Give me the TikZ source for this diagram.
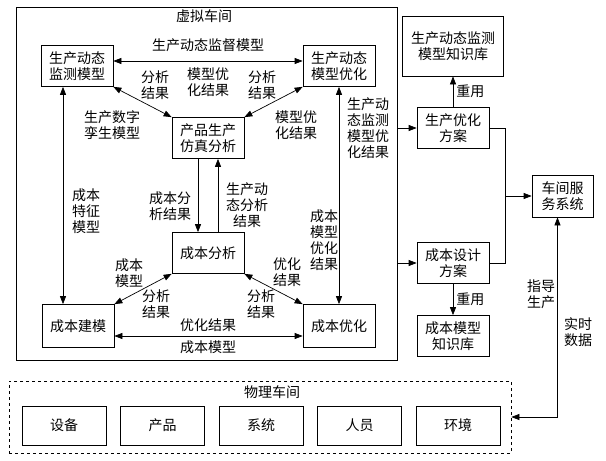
\documentclass[tikz,border=0pt]{standalone}
\usepackage{fontspec}
\setmainfont{Noto Sans CJK SC}
\usetikzlibrary{arrows.meta}
\tikzset{
  box/.style={draw, line width=0.7pt, minimum width=72pt, minimum height=41pt,
    inner sep=0pt, align=center},
  lbl/.style={inner sep=0pt, align=center},
  arr/.style={line width=0.7pt, -{Triangle[length=8pt,width=6pt]}},
  dbl/.style={line width=0.7pt, {Triangle[length=8pt,width=6pt]}-{Triangle[length=8pt,width=6pt]}}
}
\begin{document}
\begin{tikzpicture}[x=1pt, y=-1pt, font=\fontsize{14}{16}\selectfont]
  \useasboundingbox (0,0) rectangle (606,461);

  % Virtual workshop
  \node[draw, line width=0.7pt, minimum width=381pt, minimum height=353pt] (xuni) at (206.5,183.5) {};
  \node[lbl] at (204,16) {虚拟车间};

  \node[box] (jiance) at (77,66) {生产动态\\监测模型};
  \node[box] (moxyh) at (339,66) {生产动态\\模型优化};
  \node[box] (fangzhen) at (208,138) {产品生产\\仿真分析};
  \node[box] (fenxi) at (208,253) {成本分析};
  \node[box, minimum height=43pt] (jianmo) at (78,326) {成本建模};
  \node[box, minimum height=43pt] (cbyh) at (339,326) {成本优化};

  % Links inside the virtual workshop
  \draw[dbl] ([yshift=5pt]jiance.east) -- ([yshift=5pt]moxyh.west);
  \draw[dbl] (jiance.south east) -- (fangzhen.north west);
  \draw[dbl] (moxyh.south west) -- (fangzhen.north east);
  \draw[dbl] ([xshift=-14pt]jiance.south) -- ([xshift=-14pt]jiance.south |- jianmo.north);
  \draw[dbl] (moxyh.south) -- (cbyh.north);
  \draw[arr] ([xshift=-10pt]fangzhen.south) -- ([xshift=-10pt]fenxi.north);
  \draw[arr] ([xshift=10pt]fenxi.north) -- ([xshift=10pt]fangzhen.south);
  \draw[dbl] (fenxi.south west) -- (jianmo.north east);
  \draw[dbl] (fenxi.south east) -- (cbyh.north west);
  \draw[dbl] ([yshift=-10pt]jianmo.east) -- ([yshift=-10pt]cbyh.west);

  % Labels
  \node[lbl] at (208,45) {生产动态监督模型};
  \node[lbl] at (155,85) {分析\\结果};
  \node[lbl] at (208,82) {模型优\\化结果};
  \node[lbl] at (262,85) {分析\\结果};
  \node[lbl] at (112,125) {生产数字\\孪生模型};
  \node[lbl] at (296,125) {模型优\\化结果};
  \node[lbl] at (368,128) {生产动\\态监测\\模型优\\化结果};
  \node[lbl] at (86,211) {成本\\特征\\模型};
  \node[lbl] at (170,206) {成本分\\析结果};
  \node[lbl] at (247,205) {生产动\\态分析\\结果};
  \node[lbl] at (324,240) {成本\\模型\\优化\\结果};
  \node[lbl] at (129,273) {成本\\模型};
  \node[lbl] at (156,304) {分析\\结果};
  \node[lbl] at (287,272) {优化\\结果};
  \node[lbl] at (261,304) {分析\\结果};
  \node[lbl] at (208,325) {优化结果};
  \node[lbl] at (208,347) {成本模型};

  % Right side
  \node[box, minimum width=101pt, minimum height=60pt] (zsk1) at (453,46) {生产动态监测\\模型知识库};
  \node[box] (scfa) at (453,128) {生产优化\\方案};
  \node[box] (cbfa) at (453,263) {成本设计\\方案};
  \node[box] (zsk2) at (453,336) {成本模型\\知识库};
  \node[box, minimum width=61pt, minimum height=42pt] (fuwu) at (562.5,196) {车间服\\务系统};
  \coordinate (hub) at (505,196);

  \draw[arr] (xuni.east |- scfa.west) -- (scfa.west);
  \draw[arr] (xuni.east |- cbfa.west) -- (cbfa.west);
  \draw[arr] (scfa.north) -- (zsk1.south) node[midway, right=3pt, lbl] {重用};
  \draw[arr] (cbfa.south) -- (zsk2.north) node[midway, right=3pt, lbl] {重用};
  \draw[line width=0.7pt] (scfa.east) -| (hub);
  \draw[line width=0.7pt] (cbfa.east) -| (hub);
  \draw[arr] (hub) -- (fuwu.west);

  % Physical workshop
  \node[draw, dashed, line width=0.7pt, minimum width=502pt, minimum height=72pt] (wuli) at (260,417) {};
  \node[lbl] at (272,392) {物理车间};
  \foreach \txt [count=\i] in {设备, 产品, 系统, 人员, 环境}
    \node[box, minimum width=84pt, minimum height=39pt] (wl\i) at ({64+98.5*(\i-1)},425.5) {\txt};

  \draw[dbl] ([xshift=-5pt]fuwu.south) |- (wuli.east);
  \node[lbl] at (541,294) {指导\\生产};
  \node[lbl] at (578,332) {实时\\数据};
\end{tikzpicture}
\end{document}
